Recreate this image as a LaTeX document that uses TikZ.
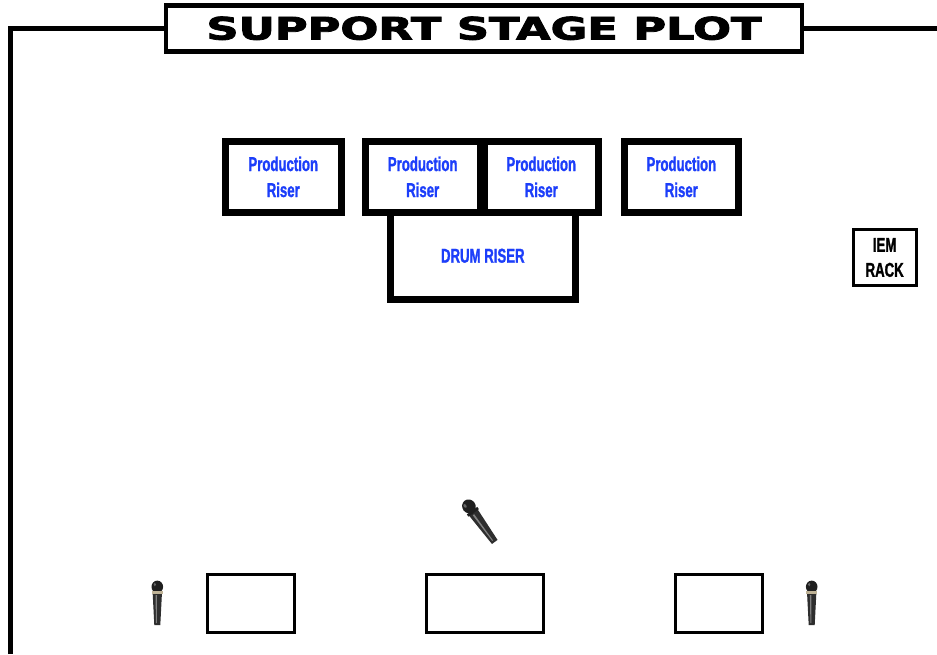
\documentclass[tikz,border=0pt]{standalone}
\usepackage{graphicx}
\usepackage{fontspec}
\newfontfamily\condfont[FakeStretch=0.66,FakeBold=1.2]{Liberation Sans}
\newfontfamily\titlefont[FakeBold=2.5]{DejaVu Sans}
\definecolor{riserblue}{RGB}{28,62,250}
\definecolor{micband}{RGB}{190,178,150}
\tikzset{
  riser/.style={draw=black, line width=7pt, fill=white, minimum height=70.3pt,
    inner sep=0pt, outer sep=0pt, align=center, text=riserblue,
    font=\condfont\bfseries\fontsize{20}{26}\selectfont},
  plainbox/.style={draw=black, line width=3pt, fill=white, inner sep=0pt, outer sep=0pt,
    align=center, font=\condfont\bfseries\fontsize{20}{25}\selectfont},
  frameline/.style={line width=5pt},
}
\newcommand\stagemic[5]{%
  \begin{scope}[shift={(#1,#2)}, rotate=#3, scale=#5]
    \fill[black!82] (-4.7,11) -- (4.7,11) -- (3,44) -- (-3,44) -- cycle;
    \fill[black!50] (-1.8,14) -- (-0.3,14) -- (-0.4,42) -- (-1.3,42) -- cycle;
    \fill[black!88] (0,5.8) ellipse (5.8 and 6.2);
    \fill[black!60] (-2.5,3.5) ellipse (1.2 and 1.8);
    \fill[#4] (-5.6,10.4) rectangle (5.6,12.8);
  \end{scope}}
\begin{document}
\begin{tikzpicture}[x=1pt, y=-1pt]
\useasboundingbox (0,0) rectangle (937,654);
\fill[white] (0,0) rectangle (937,654);

% title
\node[draw=black, line width=4.5pt, fill=white, minimum width=636pt, minimum height=46pt,
  inner sep=0pt, outer sep=0pt] (title) at (484,28.3)
  {\resizebox{555pt}{23pt}{\titlefont\bfseries SUPPORT STAGE PLOT}};
\coordinate (frameBL) at (10.5,654);
\coordinate (frameTL) at (10.5,28.3);
\coordinate (frameR) at (937,28.3);
\draw[frameline] (frameBL) -- (frameTL) -- (title.west);
\draw[frameline] (title.east) -- (frameR);

% risers
\node[riser, minimum width=185pt, minimum height=87.5pt] (drum) at (482.8,255.75) {DRUM RISER};
\node[riser, minimum width=115.5pt] (r1) at (283.25,176.85) {Production\\Riser};
\node[riser, minimum width=115pt] (r2) at (422.7,176.85) {Production\\Riser};
\node[riser, minimum width=114.5pt] (r3) at (541.25,176.85) {Production\\Riser};
\node[riser, minimum width=114.7pt] (r4) at (681.35,176.85) {Production\\Riser};

% IEM rack
\node[plainbox, minimum width=62.7pt, minimum height=55.6pt] (iem) at (884.65,257.5) {IEM\\RACK};

% downstage boxes
\node[plainbox, minimum width=87pt, minimum height=58pt] (monL) at (251,603.2) {};
\node[plainbox, minimum width=117.1pt, minimum height=58pt] (monC) at (484.75,603.2) {};
\node[plainbox, minimum width=87.2pt, minimum height=58pt] (monR) at (718.6,603.2) {};

% microphones
\stagemic{157.3}{581}{0}{micband}{1}
\stagemic{811.7}{581}{0}{micband}{1}
\stagemic{465}{501}{36}{black!88}{1.15}
\end{tikzpicture}
\end{document}
